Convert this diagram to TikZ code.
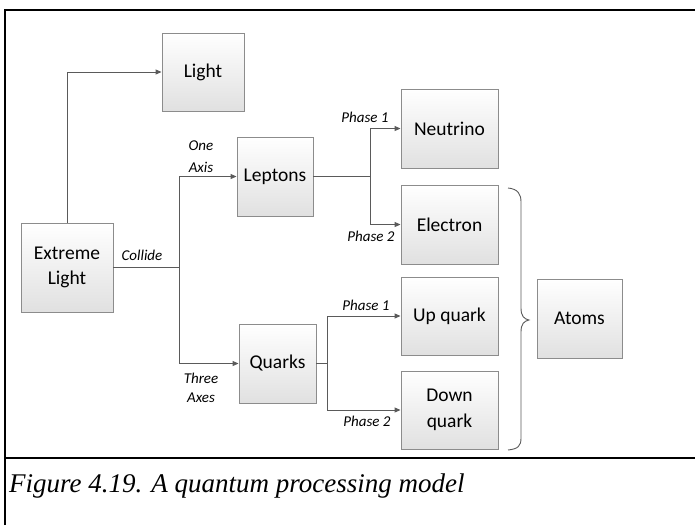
\documentclass[tikz,border=0pt]{standalone}
\usepackage{fontspec}
\setmainfont{Carlito}
\newfontfamily\capfont{Liberation Serif}
\usetikzlibrary{arrows.meta,shadows}
\definecolor{boxline}{HTML}{8C8C8C}
\definecolor{conn}{HTML}{5A5A5A}
\begin{document}
\begin{tikzpicture}[x=1pt,y=-1pt,
  box/.style={draw=boxline,line width=0.9pt,top color=white,bottom color=black!12,
    drop shadow={shadow xshift=1.2pt,shadow yshift=-1.2pt,fill=black!35,opacity=0.6},
    font=\fontsize{19.5}{25.5}\selectfont,align=center,inner sep=0pt},
  conn/.style={draw=conn,line width=1pt},
  arr/.style={conn,-{Triangle[length=6pt,width=5pt]}},
  lab/.style={font=\fontsize{15}{17}\selectfont\itshape,inner sep=0pt,align=center}]
\useasboundingbox (0,0) rectangle (695,525);
% frame
\draw[line width=2.6pt] (5,525) -- (5,10) -- (695,10);
\draw[line width=2.6pt] (5,458) -- (695,458);
% boxes
\node[box,minimum width=82pt,minimum height=78pt] (light) at (203,72) {Light};
\node[box,minimum width=92pt,minimum height=89pt] (ext) at (67,267.5) {Extreme\\Light};
\node[box,minimum width=76pt,minimum height=79pt] (lep) at (275,176.5) {Leptons};
\node[box,minimum width=77pt,minimum height=79pt] (qua) at (277.5,363.5) {Quarks};
\node[box,minimum width=97pt,minimum height=79pt] (neu) at (449.5,128.5) {Neutrino};
\node[box,minimum width=97pt,minimum height=79pt] (ele) at (449.5,224.5) {Electron};
\node[box,minimum width=97pt,minimum height=78pt] (upq) at (449.5,316) {Up quark};
\node[box,minimum width=97pt,minimum height=78pt] (dnq) at (449.5,410) {Down\\quark};
\node[box,minimum width=85pt,minimum height=79pt] (atoms) at (579.5,318.5) {Atoms};
% connectors
\coordinate (j1) at (179,267.5);
\coordinate (j2) at (370,176.5);
\coordinate (j3) at (327,363.5);
\draw[arr] (ext.north) |- (light.west);
\draw[conn] (ext.east) -- (j1);
\draw[arr] (j1) |- (lep.west);
\draw[arr] (j1) |- (qua.west);
\draw[conn] (lep.east) -- (j2);
\draw[arr] (j2) |- (neu.west);
\draw[arr] (j2) |- (ele.west);
\draw[conn] (qua.east) -- (j3);
\draw[arr] (j3) |- (upq.west);
\draw[arr] (j3) |- (dnq.west);
% brace
\draw[conn,line width=0.9pt] (508,188) .. controls (518,189) and (521,194) .. (521,202)
  -- (521,308) .. controls (521,316) and (524,319) .. (529,320)
  .. controls (524,321) and (521,324) .. (521,332)
  -- (521,438) .. controls (521,446) and (518,449) .. (508,450);
% labels
\node[lab] (l1) at (142,255) {Collide};
\node[lab] (l2) at (201,146) {One};
\node[lab] (l3) at (201,167) {Axis};
\node[lab] (l4) at (201,378) {Three};
\node[lab] (l5) at (201,398) {Axes};
\node[lab] (l6) at (365,117) {Phase 1};
\node[lab] (l7) at (371,236) {Phase 2};
\node[lab] (l8) at (366,305) {Phase 1};
\node[lab] (l9) at (367,421) {Phase 2};
% caption
\node[anchor=base west,inner sep=0pt,font=\capfont\fontsize{27}{30}\selectfont\itshape] (cap) at (9,492) {Figure 4.19. A quantum processing model};
\end{tikzpicture}
\end{document}
